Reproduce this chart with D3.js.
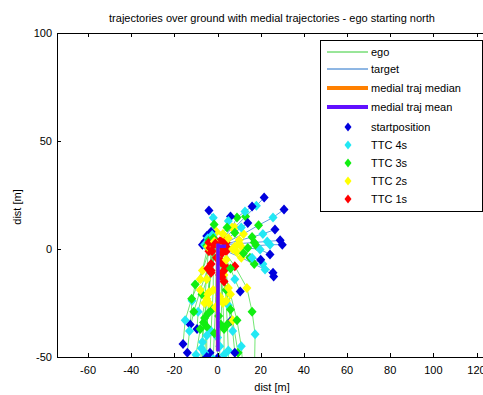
<!DOCTYPE html>
<html lang="en">
<head>
<meta charset="utf-8">
<title>trajectories</title>
<script src="https://d3js.org/d3.v7.min.js"></script>
<style>
  body { margin: 0; background: #fff; }
  text { font-family: "Liberation Sans", Arial, sans-serif; fill: #000; }
</style>
</head>
<body>
<script>
// axis ticks
const xTicks = [-60, -40, -20, 0, 20, 40, 60, 80, 100, 120];
const yTicks = [-50, 0, 50, 100];

// ego tracks: startposition, TTC 4s, 3s, 2s, 1s, end
const egoTracks = [
  [[-12.7, -35], [-11.8, -24], [-10.4, -16.4], [-7, -10], [-4, -1], [-1, 0]],
  [[-9.5, -37], [-9, -29], [-7.2, -21], [-5, -14], [-3, -7], [-1, 0]],
  [[-16, -44], [-15, -33], [-12, -23], [-8, -14], [-4.5, 1], [-1, 0]],
  [[6, -33.5], [5, -26], [4, -19], [3, -12], [2, -6], [1, 0]],
  [[-3.5, -48], [-3, -38], [-2.5, -28], [-2, -19], [-2, 2], [0, 0]],
  [[0, -50.5], [0, -41], [0.5, -31], [1, -22], [1, -12], [0, 0]],
  [[17, -62], [17.4, -39.5], [16, -29], [13.6, -18], [8, -8], [3, -1]],
  [[9, -70], [9.5, -58], [9.5, -48], [7, -33], [3, -15], [0, 0]],
  [[-6, -60], [-6, -48], [-5, -36], [-4, -25], [-3, 3], [-1, 0]],
  [[3, -62], [3, -49], [3, -37], [2.5, -25], [2, -13], [1, 0]],
  [[-8, -58], [-7.5, -46], [-6.5, -34], [-5, -23], [-3, -11], [-1, 0]],
  [[5, -58], [5, -47], [4.5, -35], [4, -24], [2, 1], [1, 0]],
  [[-2, -64], [-2, -51], [-1.5, -39], [-1, -27], [-0.5, -4], [0, 0]],
  [[12, -58], [11, -45], [9, -33], [6, -21], [3, -10], [0, 0]],
  [[-11, -62], [-10, -49], [-8, -37], [-6, -25], [-4, 3], [-1, 0]],
  [[1, -54], [1, -45], [1.5, -35], [2, -24], [1.5, -6], [0, 0]],
  [[-5, -50], [-5, -40], [-4.5, -30], [-4, -20], [-3, -10], [-1, 0]],
  [[8, -48], [7, -38], [6, -28], [5, -18], [3.5, -8], [1, 0]],
  [[-7, -52], [-7, -43], [-6, -32], [-4.5, -21], [-2.5, -1], [0, 0]],
  [[10.5, -19.7], [8, -14], [6, -9], [4, -5], [2, -2], [0, 0]],
  [[-14, -48], [-13, -38], [-11, -29], [-8, -19], [-4.5, -9], [-1, 0]]
];

// target tracks: startposition, TTC 4s, 3s, 2s, 1s, end
const targetTracks = [
  [[21.6, 23.8], [18, 20], [13, 15], [8, 10], [3, 4], [0, 1]],
  [[30.8, 18.3], [25.7, 14.6], [19, 11], [12, 7], [4, 3], [0, 1]],
  [[16, 19.7], [12.7, 17.4], [9, 14.6], [6.7, 10], [2, 4], [0, 1]],
  [[-4, 17.8], [-2, 14.5], [-1.6, 11.3], [-0.5, 8], [-1, 4], [0, 1]],
  [[6, 15], [5, 13], [4.4, 10], [2.5, 7], [1, 3.5], [0, 1]],
  [[26.6, 9], [21, 7], [16, 5.5], [10, 4], [3, 2], [0, 1]],
  [[30, 2], [24.3, 2], [18, 1.5], [11, 1], [4, 1], [0, 1]],
  [[29, 4], [23, 3.5], [17, 3], [10, 2.5], [3, 2], [0, 1]],
  [[24.3, -2.5], [19.7, -0.2], [14, 0.5], [8, 1], [2, 1.5], [0, 1]],
  [[25.7, -11], [21, -7], [15, -4], [9, -1.5], [3, 0.5], [0, 1]],
  [[26, -12.7], [22, -9.5], [17, -7], [11, -4], [4, -1], [0, 1]],
  [[-5.8, 3.5], [-5, 3], [-4.5, 2.5], [-4, 2], [-3, 1.5], [-1, 1]],
  [[-7, 2], [-6, 2], [-5, 1.5], [-4.5, 1], [-3.5, 0.5], [-1, 0.5]],
  [[-5, 6], [-4.5, 5], [-4, 4], [-3.5, 3], [-2.5, 2.5], [-1, 1.5]],
  [[-3, 8], [-2.5, 6.5], [-2, 5], [-1.5, 3.5], [-1, 2.5], [0, 1.5]],
  [[14, 12], [11, 10], [8, 7.5], [5, 5], [2, 3], [0, 1]],
  [[20, -5], [16, -4], [12, -2], [7, 0], [2, 1.5], [0, 1]]
];

// medial trajectories
const medialMedian = [[0, -47], [0, -20], [0, 1.5], [2, 1.5]];
const medialMean = [[0.2, -47.5], [0.2, -20], [0.2, 2.5], [0.3, 1.3], [4, 1.3]];

const legendLabels = ["ego", "target", "medial traj median", "medial traj mean",
  "startposition", "TTC 4s", "TTC 3s", "TTC 2s", "TTC 1s"];
const markerColors = ["#0000dd", "#22e8f4", "#11ee11", "#ffff00", "#ff0000"];

const width = 483, height = 395;

const svg = d3.select("body").append("svg")
  .attr("width", width)
  .attr("height", height);

// equal aspect axes, right side runs past the window
const x = d3.scaleLinear().domain([-74.4, 125.6]).range([57, 488.6]);
const y = d3.scaleLinear().domain([-50, 100]).range([357, 33]);

svg.append("clipPath").attr("id", "clip")
  .append("rect")
  .attr("x", x.range()[0]).attr("y", y.range()[1])
  .attr("width", x.range()[1] - x.range()[0])
  .attr("height", y.range()[0] - y.range()[1]);

const plot = svg.append("g").attr("clip-path", "url(#clip)");
const line = d3.line().x(d => x(d[0])).y(d => y(d[1]));
const diamond = "M0,-5L4.5,0L0,5L-4.5,0Z";

// trajectory lines
plot.selectAll(".ego").data(egoTracks).enter().append("path")
  .attr("d", line).attr("fill", "none")
  .attr("stroke", "#44dd44").attr("stroke-opacity", 0.75).attr("stroke-width", 1);
plot.selectAll(".tgt").data(targetTracks).enter().append("path")
  .attr("d", line).attr("fill", "none")
  .attr("stroke", "#3a88d8").attr("stroke-opacity", 0.8).attr("stroke-width", 1);

// markers, per track
const allTracks = egoTracks.map((t, i) => [t, targetTracks[i]]).flat().filter(t => t);
allTracks.forEach(track => {
  plot.selectAll(null).data(track.slice(0, 5)).enter().append("path")
    .attr("d", diamond)
    .attr("transform", d => "translate(" + x(d[0]) + "," + y(d[1]) + ")")
    .attr("fill", (d, i) => markerColors[i]);
});

// medial trajectories on top
plot.append("path").datum(medialMedian).attr("d", line).attr("fill", "none")
  .attr("stroke", "#ff8000").attr("stroke-width", 3.5);
plot.append("path").datum(medialMean).attr("d", line).attr("fill", "none")
  .attr("stroke", "#6010ff").attr("stroke-width", 3.5);

// axes box
const axes = svg.append("g").attr("stroke", "#000").attr("fill", "none");
axes.append("rect")
  .attr("x", x.range()[0] + 0.5).attr("y", y.range()[1] + 0.5)
  .attr("width", x.range()[1] - x.range()[0]).attr("height", y.range()[0] - y.range()[1]);

axes.selectAll(".xt").data(xTicks).enter().append("path")
  .attr("d", d => "M" + (Math.round(x(d)) + 0.5) + "," + y.range()[0] + "v-4M" +
    (Math.round(x(d)) + 0.5) + "," + y.range()[1] + "v4");
axes.selectAll(".yt").data(yTicks).enter().append("path")
  .attr("d", d => "M" + x.range()[0] + "," + (Math.round(y(d)) + 0.5) + "h4");

svg.selectAll(".xl").data(xTicks).enter().append("text")
  .attr("x", d => x(d)).attr("y", 374)
  .attr("text-anchor", "middle").attr("font-size", 11)
  .text(d => d);
svg.selectAll(".yl").data(yTicks).enter().append("text")
  .attr("x", 52).attr("y", d => y(d) + 4)
  .attr("text-anchor", "end").attr("font-size", 11)
  .text(d => d);

svg.append("text").attr("x", 272).attr("y", 22)
  .attr("text-anchor", "middle").attr("font-size", 11)
  .text("trajectories over ground with medial trajectories - ego starting north");
svg.append("text").attr("x", 272).attr("y", 391)
  .attr("text-anchor", "middle").attr("font-size", 11)
  .text("dist [m]");
svg.append("text")
  .attr("transform", "translate(21,207) rotate(-90)")
  .attr("text-anchor", "middle").attr("font-size", 11)
  .text("dist [m]");

// legend
const legend = svg.append("g");
legend.append("rect")
  .attr("x", 320.5).attr("y", 40.5).attr("width", 162).attr("height", 171)
  .attr("fill", "#fff").attr("stroke", "#000");

const rowY = [52, 69, 88, 107, 127, 145, 163, 181, 199];
const lineStyles = [["#33cc33", 1], ["#1f6fc8", 1], ["#ff8000", 4], ["#6010ff", 4]];
lineStyles.forEach((s, i) => {
  legend.append("line")
    .attr("x1", 327).attr("x2", 368).attr("y1", rowY[i]).attr("y2", rowY[i])
    .attr("stroke", s[0]).attr("stroke-width", s[1]);
});
markerColors.forEach((c, i) => {
  legend.append("path").attr("d", "M0,-4.5L3.5,0L0,4.5L-3.5,0Z")
    .attr("transform", "translate(348," + rowY[i + 4] + ")")
    .attr("fill", c);
});
legend.selectAll("text").data(legendLabels).enter().append("text")
  .attr("x", 371).attr("y", (d, i) => rowY[i] + 4)
  .attr("font-size", 11)
  .text(d => d);
</script>
</body>
</html>
